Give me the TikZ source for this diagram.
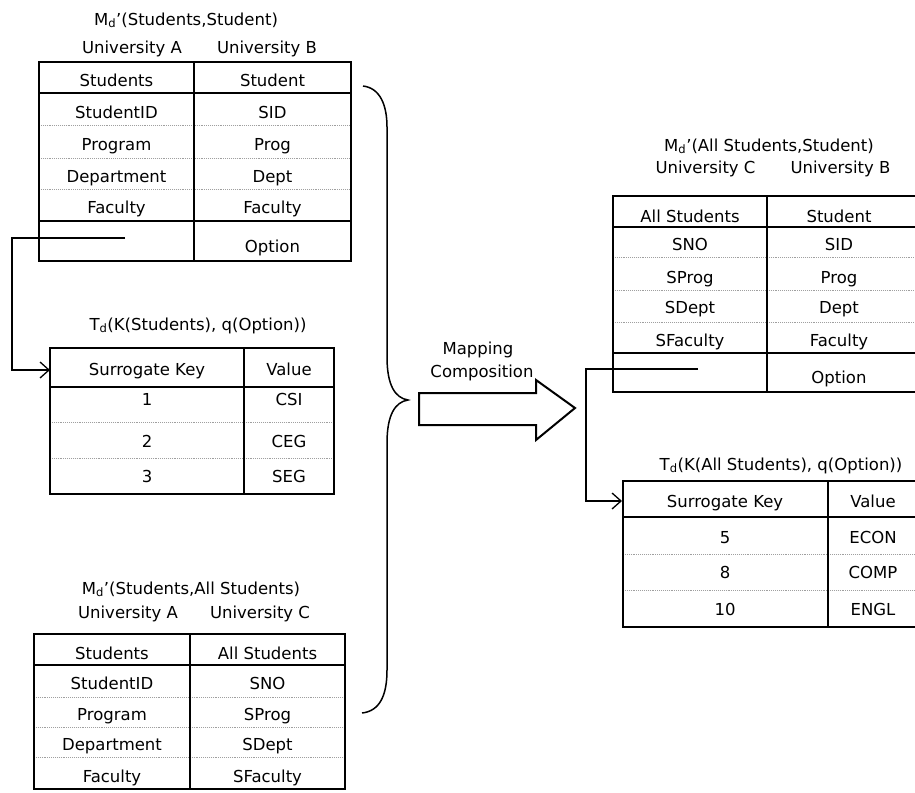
\documentclass[tikz,border=0pt]{standalone}
\usepackage{fontspec}
\setmainfont{DejaVu Sans}
\usetikzlibrary{arrows.meta}
\begin{document}
\begin{tikzpicture}[x=1pt,y=-1pt,
  txt/.style={inner sep=0pt, font=\fontsize{16.5}{19}\selectfont, text height=12.2pt, text depth=0pt, anchor=center},
  thk/.style={line width=2pt, black},
  dots/.style={line width=0.9pt, gray!75, densely dotted},
  conn/.style={line width=1.6pt, black},
  barb/.style={-{Straight Barb[length=9pt,width=16pt,line width=1.3pt]}},
]
\useasboundingbox (0,0) rectangle (915,792);
\clip (0,0) rectangle (915,792);
\fill[white] (0,0) rectangle (915,792);

% ---------- Table 1: M_d'(Students,Student) ----------
\node[txt] (t1title) at (186,19) {M\textsubscript{d}'(Students,Student)};
\node[txt] (t1ua) at (132,47.5) {University A};
\node[txt] (t1ub) at (267,47.5) {University B};
\draw[dots] (39,125) -- (351,125) (39,158) -- (351,158) (39,189) -- (351,189);
\draw[thk] (39,62) rectangle (351,261);
\draw[thk] (39,93) -- (351,93) (39,221) -- (351,221) (194,62) -- (194,261);
\node[txt] (t1a0) at (116.5,80.5) {Students};
\node[txt] (t1b0) at (272.5,80.5) {Student};
\node[txt] (t1a1) at (116.5,112) {StudentID};
\node[txt] (t1b1) at (272.5,112) {SID};
\node[txt] (t1a2) at (116.5,144) {Program};
\node[txt] (t1b2) at (272.5,144) {Prog};
\node[txt] (t1a3) at (116.5,176) {Department};
\node[txt] (t1b3) at (272.5,176) {Dept};
\node[txt] (t1a4) at (116.5,207) {Faculty};
\node[txt] (t1b4) at (272.5,207) {Faculty};
\node[txt] (t1b5) at (272.5,246) {Option};

% ---------- Table 2: T_d(K(Students), q(Option)) ----------
\node[txt] (t2title) at (198,324) {T\textsubscript{d}(K(Students), q(Option))};
\draw[dots] (50,422) -- (334,422) (50,458) -- (334,458);
\draw[thk] (50,348) rectangle (334,494);
\draw[thk] (50,387) -- (334,387) (244,348) -- (244,494);
\node[txt] (t2a0) at (147,369) {Surrogate Key};
\node[txt] (t2b0) at (289,369) {Value};
\node[txt] (t2a1) at (147,399) {1};
\node[txt] (t2b1) at (289,399) {CSI};
\node[txt] (t2a2) at (147,441) {2};
\node[txt] (t2b2) at (289,441) {CEG};
\node[txt] (t2a3) at (147,476) {3};
\node[txt] (t2b3) at (289,476) {SEG};

% connector 1
\coordinate (c1s) at (125,238);
\coordinate (c1b) at (12,238);
\coordinate (c1e) at (50,370);
\draw[conn,barb] (c1s) -- (c1b) |- (c1e);

% ---------- Table 3: M_d'(Students,All Students) ----------
\node[txt] (t3title) at (191,588) {M\textsubscript{d}'(Students,All Students)};
\node[txt] (t3ua) at (128,612) {University A};
\node[txt] (t3uc) at (260,612) {University C};
\draw[dots] (34,697) -- (345,697) (34,727) -- (345,727) (34,757) -- (345,757);
\draw[thk] (34,634) rectangle (345,789);
\draw[thk] (34,665) -- (345,665) (190,634) -- (190,789);
\node[txt] (t3a0) at (112,653) {Students};
\node[txt] (t3b0) at (267.5,653) {All Students};
\node[txt] (t3a1) at (112,683) {StudentID};
\node[txt] (t3b1) at (267.5,683) {SNO};
\node[txt] (t3a2) at (112,714) {Program};
\node[txt] (t3b2) at (267.5,714) {SProg};
\node[txt] (t3a3) at (112,744) {Department};
\node[txt] (t3b3) at (267.5,744) {SDept};
\node[txt] (t3a4) at (112,776) {Faculty};
\node[txt] (t3b4) at (267.5,776) {SFaculty};

% ---------- brace ----------
\draw[line width=1.5pt] (363,86) .. controls (380,88) and (387,105) .. (387,127)
  -- (387,357) .. controls (387,385) and (395,398) .. (408,400)
  .. controls (395,402) and (387,415) .. (387,443)
  -- (387,670) .. controls (387,695) and (380,711) .. (362,713);

% ---------- big arrow ----------
\draw[line width=2pt, line join=miter] (419,393) -- (536,393) -- (536,380) -- (575,408)
  -- (536,440) -- (536,425) -- (419,425) -- cycle;
\node[txt] (map1) at (478,348) {Mapping};
\node[txt] (map2) at (482,371) {Composition};

% ---------- Table 4: M_d'(All Students,Student) ----------
\node[txt] (t4title) at (769,145) {M\textsubscript{d}'(All Students,Student)};
\node[txt] (t4uc) at (705.5,167) {University C};
\node[txt] (t4ub) at (840.5,167) {University B};
\draw[dots] (613,257) -- (918,257) (613,290) -- (918,290) (613,322) -- (918,322);
\draw[thk] (613,196) rectangle (918,392);
\draw[thk] (613,227) -- (918,227) (613,353) -- (918,353) (767,196) -- (767,392);
\node[txt] (t4a0) at (690,216) {All Students};
\node[txt] (t4b0) at (839,216) {Student};
\node[txt] (t4a1) at (690,244) {SNO};
\node[txt] (t4b1) at (839,244) {SID};
\node[txt] (t4a2) at (690,277.5) {SProg};
\node[txt] (t4b2) at (839,277.5) {Prog};
\node[txt] (t4a3) at (690,307.5) {SDept};
\node[txt] (t4b3) at (839,307.5) {Dept};
\node[txt] (t4a4) at (690,340) {SFaculty};
\node[txt] (t4b4) at (839,340) {Faculty};
\node[txt] (t4b5) at (839,377.5) {Option};

% ---------- Table 5: T_d(K(All Students), q(Option)) ----------
\node[txt] (t5title) at (781,464) {T\textsubscript{d}(K(All Students), q(Option))};
\draw[dots] (623,554) -- (920,554) (623,590) -- (920,590);
\draw[thk] (623,481) rectangle (920,627);
\draw[thk] (623,517) -- (920,517) (828,481) -- (828,627);
\node[txt] (t5a0) at (725,501) {Surrogate Key};
\node[txt] (t5b0) at (873,501) {Value};
\node[txt] (t5a1) at (725,537.5) {5};
\node[txt] (t5b1) at (873,537.5) {ECON};
\node[txt] (t5a2) at (725,572.5) {8};
\node[txt] (t5b2) at (873,572.5) {COMP};
\node[txt] (t5a3) at (725,609) {10};
\node[txt] (t5b3) at (873,609) {ENGL};

% connector 2
\coordinate (c2s) at (698,369);
\coordinate (c2b) at (586,369);
\coordinate (c2e) at (622,501);
\draw[conn,barb] (c2s) -- (c2b) |- (c2e);
\end{tikzpicture}
\end{document}
